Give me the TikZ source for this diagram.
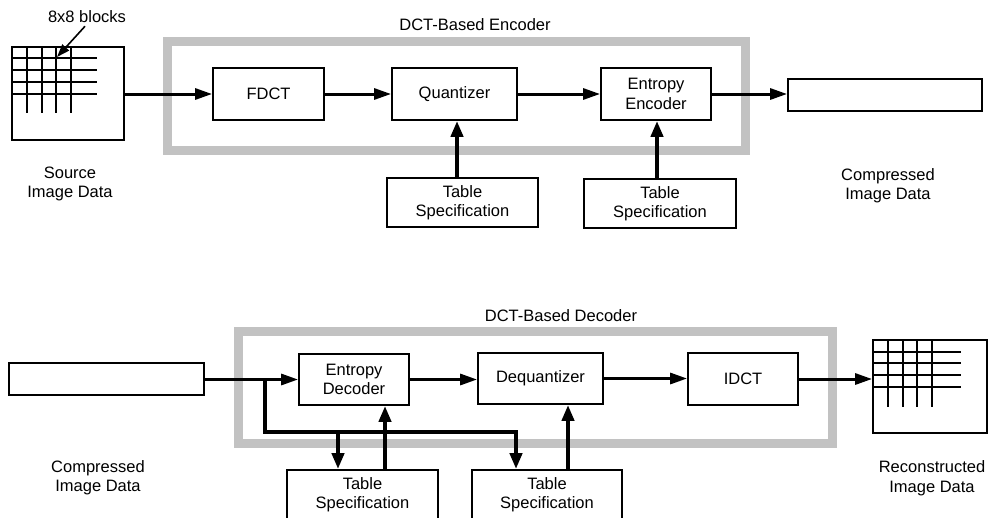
\documentclass[tikz,border=0pt]{standalone}
\usepackage{fontspec}
\setmainfont{Liberation Sans}
\usetikzlibrary{arrows.meta}
\begin{document}
\begin{tikzpicture}[x=1pt,y=-1pt,
  every node/.style={font=\fontsize{16.5}{19.5}\selectfont, align=center, inner sep=0pt},
  box/.style={draw, line width=1.8pt},
  harr/.style={line width=3pt, -{Triangle[length=17pt,width=11pt]}},
  varr/.style={line width=4pt, -{Triangle[length=16pt,width=12pt]}},
  band/.style={draw=black!24, line width=9pt},
  gridline/.style={line width=1.4pt}
]
\useasboundingbox (0,0) rectangle (992,517);
\clip (0,0) rectangle (992,517);

% ---------------- Encoder ----------------
\draw[band] (167,41) rectangle (745,150);
\node at (475,25) {DCT-Based Encoder};

\node[box, minimum width=112pt, minimum height=93pt] (src) at (68,93.5) {};
\foreach \yy in {58,70,82,94} \draw[gridline] (12,\yy) -- (97,\yy);
\foreach \xx in {27,42,56,71} \draw[gridline] (\xx,47) -- (\xx,113);
\node (l8) at (87,17) {8x8 blocks};
\coordinate (gp) at (57,57);
\draw[line width=1.6pt, -{Triangle[length=13pt,width=9pt]}] ([xshift=-2pt]l8.south) ++(0,3) -- (gp);
\node (srcl) at (70,184) {Source\\Image Data};

\node[box, minimum width=111pt, minimum height=52pt] (fdct) at (268.5,94) {FDCT};
\node[box, minimum width=125pt, minimum height=52pt] (quant) at (454.5,94) {Quantizer};
\node[box, minimum width=110pt, minimum height=52pt] (ee) at (656,94) {Entropy\\Encoder};
\node[box, minimum width=194pt, minimum height=32pt] (out) at (885,95) {};
\node (outl) at (888,185.5) {Compressed\\Image Data};

\node[box, minimum width=151pt, minimum height=49pt] (ts1) at (462.5,202.5) {Table\\Specification};
\node[box, minimum width=152pt, minimum height=49pt] (ts2) at (660,203.5) {Table\\Specification};

\draw[harr] (src.east |- fdct.west) -- (fdct.west);
\draw[harr] (fdct.east) -- (quant.west);
\draw[harr] (quant.east) -- (ee.west);
\draw[harr] (ee.east) -- (ee.east -| out.west);
\draw[varr] ([xshift=-5.5pt]ts1.north) -- ([xshift=-5.5pt]ts1.north |- quant.south);
\draw[varr] ([xshift=-3pt]ts2.north) -- ([xshift=-3pt]ts2.north |- ee.south);

% ---------------- Decoder ----------------
\draw[band] (238,331) rectangle (832,443);
\node at (561,316) {DCT-Based Decoder};

\node[box, minimum width=195pt, minimum height=32pt] (cin) at (106.5,379) {};
\node (cinl) at (98,477.5) {Compressed\\Image Data};

\node[box, minimum width=110pt, minimum height=51pt] (ed) at (354,379.5) {Entropy\\Decoder};
\node[box, minimum width=125pt, minimum height=51pt] (dq) at (540.5,378.5) {Dequantizer};
\node[box, minimum width=110pt, minimum height=52pt] (idct) at (743,379) {IDCT};
\node[box, minimum width=114pt, minimum height=93pt] (rec) at (930,386.5) {};
\foreach \yy in {352,363,375,387} \draw[gridline] (873,\yy) -- (961,\yy);
\foreach \xx in {888,903,917,932} \draw[gridline] (\xx,340) -- (\xx,407);
\node (recl) at (932,478) {Reconstructed\\Image Data};

\node[box, minimum width=151pt, minimum height=49pt] (ts3) at (362.5,494.5) {Table\\Specification};
\node[box, minimum width=150pt, minimum height=49pt] (ts4) at (547,494.5) {Table\\Specification};

\draw[harr] (cin.east |- ed.west) -- (ed.west);
\draw[harr] (ed.east) -- (ed.east -| dq.west);
\draw[harr] (dq.east) -- (dq.east -| idct.west);
\draw[harr] (idct.east) -- (idct.east -| rec.west);

\coordinate (j) at (265,379.5);
\coordinate (k1) at (338,432);
\coordinate (k2) at (516,432);
\draw[varr] (j) |- (k2) -- (k2 |- ts4.north);
\draw[varr] (k1) -- (k1 |- ts3.north);
\draw[varr] ([xshift=22.5pt]ts3.north) -- ([xshift=22.5pt]ts3.north |- ed.south);
\draw[varr] ([xshift=21pt]ts4.north) -- ([xshift=21pt]ts4.north |- dq.south);
\end{tikzpicture}
\end{document}
